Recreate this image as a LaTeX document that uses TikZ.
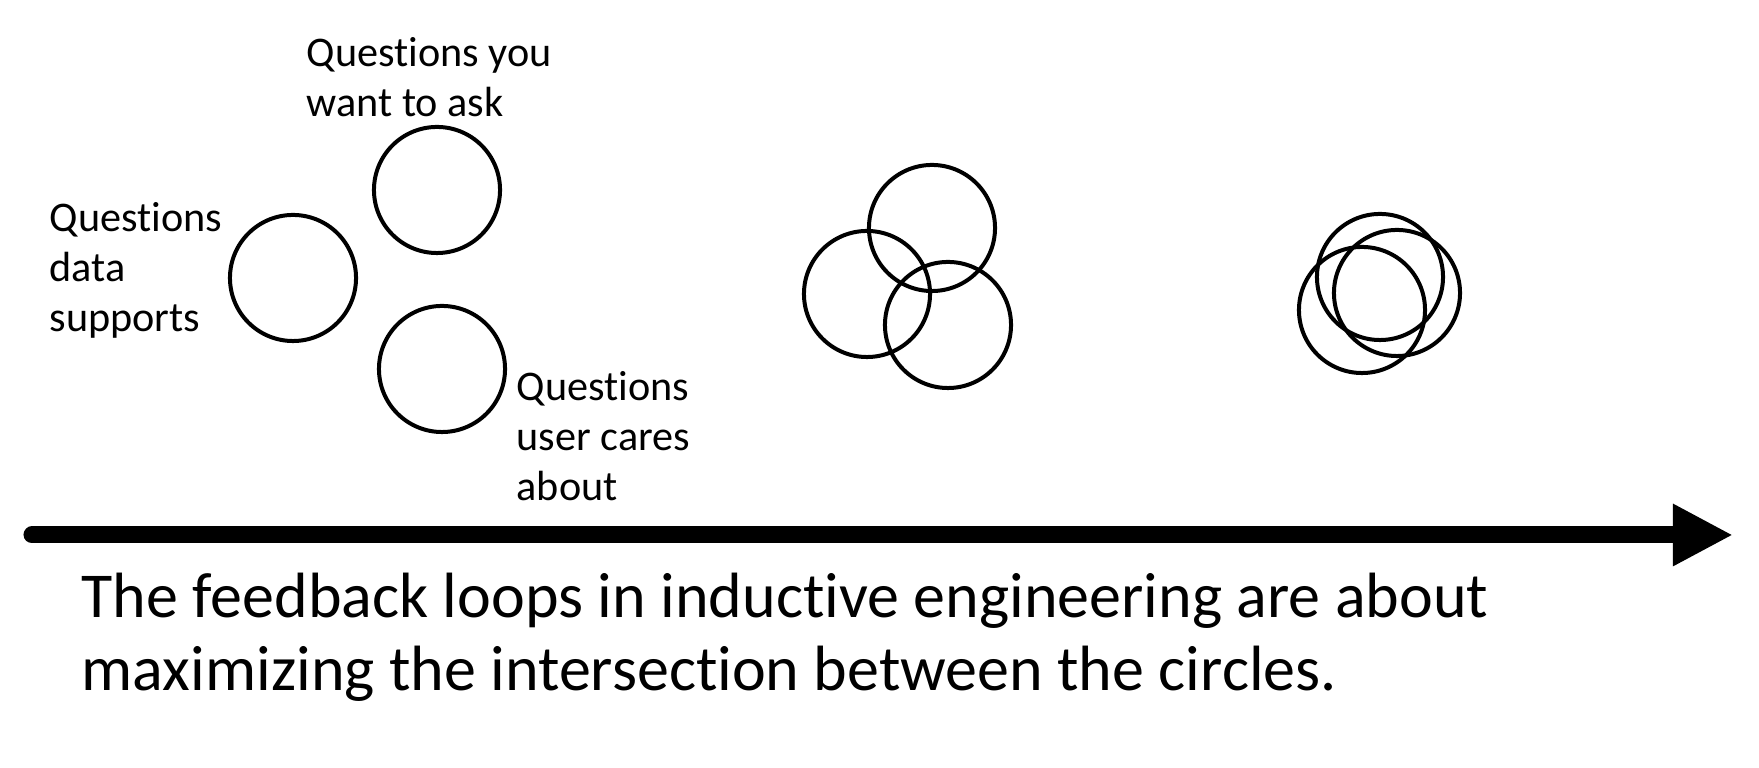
\documentclass[tikz,border=0pt]{standalone}
\usepackage{fontspec}
\setmainfont{Carlito}[Ligatures=NoCommon]
\usetikzlibrary{arrows.meta}

\begin{document}
\begin{tikzpicture}[
    x=0.01cm, y=-0.01cm,
    ring/.style={circle, draw, line width=0.04cm, minimum size=1.26cm, inner sep=0pt},
    lbl/.style={anchor=north west, align=left, inner sep=0pt, font=\fontsize{12}{14.2}\selectfont}
]
  \useasboundingbox (0,0) rectangle (1759,768);

  % Separate circles (left group)
  \node[ring] (ask)  at (437,190) {};
  \node[ring] (data) at (293,278) {};
  \node[ring] (user) at (442,369) {};

  % Labels of the left group
  \node[lbl] (askl)  at (306,37)  {Questions you\\want to ask};
  \node[lbl] (datal) at (49,202)  {Questions\\data\\supports};
  \node[lbl] (userl) at (516,371) {Questions\\user cares\\about};

  % Overlapping circles (middle group)
  \node[ring] (ask2)  at (932,228) {};
  \node[ring] (data2) at (867,294) {};
  \node[ring] (user2) at (948,325) {};

  % Nearly coincident circles (right group)
  \node[ring] (ask3)  at (1380,277) {};
  \node[ring] (data3) at (1362,310) {};
  \node[ring] (user3) at (1397,293) {};

  % Time line
  \coordinate (start) at (32,535);
  \coordinate (end)   at (1733,535);
  \draw[line width=0.17cm, line cap=round, -{Triangle[length=0.6cm, width=0.58cm]}] (start) -- (end);

  % Caption
  \node[anchor=north west, align=left, inner sep=0pt, font=\fontsize{18.2}{20.8}\selectfont] (caption) at (81,572)
    {The feedback loops in inductive engineering are about\\maximizing the intersection between the circles.};
\end{tikzpicture}
\end{document}
